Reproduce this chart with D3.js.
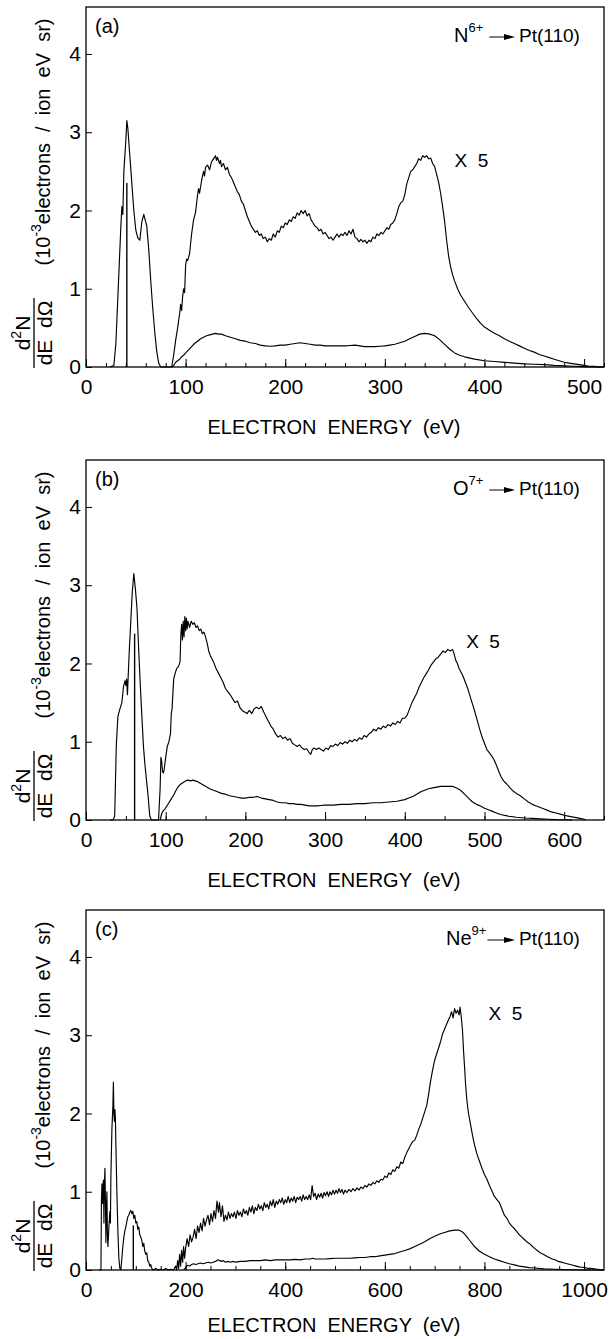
<!DOCTYPE html>
<html>
<head>
<meta charset="utf-8">
<script src="https://cdn.jsdelivr.net/npm/d3@7"></script>
<style>
  body { margin: 0; background: #fff; }
  text { white-space: pre; }
</style>
</head>
<body>
<div id="chart"></div>
<script>
// ---- data: [energy (eV), d2N/dE dOmega (1e-3 el / ion eV sr)] ----

// (a) N6+ -> Pt(110)
const peakA = [[24,0],[28,0.02],[30,0.3],[32,0.9],[34,1.5],[35,1.8],[36,2.05],[37,1.95],[38,2.5],[40,2.9],[41,3.15],[42,3.05],[44,2.7],[46,2.35],[48,2.0],[50,1.75],[52,1.65],[54,1.62],[56,1.85],[58,1.95],[59,1.9],[61,1.8],[63,1.5],[65,1.1],[67,0.75],[69,0.45],[71,0.2],[73,0.05],[75,0],[86,0]];
const x5A = [[86,0],[88,0.15],[90,0.34],[92,0.5],[94,0.68],[95,0.8],[96,0.72],[97,0.9],[98,1.0],[99,0.95],[100,1.3],[101,1.38],[102,1.36],[104,1.45],[106,1.7],[108,1.88],[110,1.98],[112,2.2],[113,2.28],[114,2.22],[116,2.38],[118,2.5],[119,2.44],[120,2.55],[122,2.58],[124,2.52],[126,2.62],[128,2.66],[130,2.7],[131,2.64],[132,2.68],[134,2.6],[135,2.64],[136,2.56],[138,2.6],[140,2.52],[142,2.55],[144,2.46],[146,2.42],[148,2.36],[150,2.3],[152,2.24],[154,2.2],[156,2.12],[158,2.08],[160,2.0],[162,1.92],[164,1.86],[166,1.8],[168,1.76],[170,1.72],[172,1.74],[174,1.68],[176,1.7],[178,1.64],[180,1.66],[182,1.6],[184,1.64],[186,1.62],[188,1.7],[190,1.66],[192,1.74],[194,1.72],[196,1.8],[198,1.78],[200,1.84],[202,1.82],[204,1.88],[206,1.86],[208,1.92],[210,1.9],[212,1.97],[214,1.94],[216,2.0],[218,1.96],[220,2.0],[222,1.93],[224,1.96],[226,1.88],[228,1.84],[230,1.8],[232,1.78],[234,1.74],[236,1.76],[238,1.7],[240,1.72],[242,1.68],[244,1.64],[246,1.66],[248,1.62],[250,1.66],[252,1.7],[254,1.66],[256,1.7],[258,1.68],[260,1.72],[262,1.68],[264,1.74],[266,1.7],[268,1.76],[270,1.66],[272,1.64],[274,1.6],[276,1.63],[278,1.6],[280,1.62],[282,1.58],[284,1.62],[286,1.6],[288,1.66],[290,1.64],[292,1.7],[294,1.68],[296,1.72],[298,1.7],[300,1.74],[302,1.78],[304,1.76],[306,1.82],[308,1.84],[310,1.88],[312,1.96],[314,2.05],[316,2.1],[318,2.12],[320,2.2],[322,2.34],[324,2.42],[326,2.5],[328,2.52],[330,2.56],[332,2.6],[334,2.66],[336,2.64],[338,2.7],[340,2.68],[342,2.7],[344,2.66],[346,2.67],[348,2.6],[350,2.56],[352,2.46],[354,2.36],[356,2.22],[358,2.05],[360,1.86],[362,1.62],[364,1.42],[366,1.28],[368,1.18],[370,1.1],[373,1.0],[376,0.92],[380,0.84],[384,0.76],[388,0.69],[392,0.62],[396,0.56],[400,0.51],[405,0.47],[410,0.43],[415,0.4],[420,0.36],[425,0.33],[430,0.3],[435,0.27],[440,0.24],[445,0.21],[450,0.19],[455,0.16],[460,0.14],[465,0.12],[470,0.1],[475,0.08],[480,0.06],[485,0.05],[490,0.04],[495,0.03],[500,0.02],[505,0.01],[510,0.01],[515,0],[520,0]];
const x1A = [[86,0],[88,0.02],[90,0.06],[92,0.08],[94,0.1],[96,0.13],[98,0.15],[100,0.18],[103,0.22],[106,0.26],[109,0.3],[112,0.33],[115,0.36],[118,0.38],[121,0.4],[124,0.41],[127,0.42],[130,0.43],[133,0.42],[136,0.42],[140,0.4],[145,0.38],[150,0.36],[155,0.34],[160,0.33],[165,0.31],[170,0.3],[175,0.28],[180,0.27],[185,0.265],[190,0.27],[195,0.28],[200,0.28],[205,0.29],[210,0.3],[215,0.31],[220,0.3],[225,0.29],[230,0.28],[235,0.28],[240,0.27],[245,0.27],[250,0.27],[255,0.27],[260,0.27],[265,0.275],[270,0.28],[275,0.27],[280,0.26],[285,0.26],[290,0.26],[295,0.265],[300,0.27],[305,0.28],[310,0.29],[315,0.31],[320,0.33],[325,0.36],[330,0.39],[335,0.42],[340,0.43],[345,0.42],[350,0.4],[355,0.35],[360,0.29],[365,0.23],[370,0.18],[375,0.15],[380,0.13],[390,0.1],[400,0.08],[410,0.07],[420,0.06],[430,0.05],[440,0.04],[450,0.035],[460,0.03],[470,0.02],[480,0.015],[490,0.01],[500,0.005],[510,0],[520,0]];
const markA = [41, 2.35];
const ticksA = [0, 100, 200, 300, 400, 500];

// (b) O7+ -> Pt(110)
const peakB = [[30,0],[34,0],[36,0.05],[38,0.95],[40,1.32],[42,1.4],[45,1.5],[47,1.7],[49,1.78],[50,1.72],[51,1.8],[52,1.6],[54,2.1],[56,2.5],[58,2.9],[60,3.15],[62,2.95],[64,2.7],[66,2.2],[68,1.75],[70,1.35],[72,0.95],[74,0.7],[76,0.5],[78,0.3],[80,0.05],[82,0],[91,0]];
const x5B = [[91,0],[93,0.4],[94,0.8],[95,0.75],[96,0.62],[97,0.6],[98,0.64],[100,0.8],[102,0.94],[104,1.0],[106,1.1],[107,1.36],[108,1.42],[110,1.8],[112,1.88],[114,1.94],[116,1.96],[118,2.02],[119,2.36],[120,2.5],[121,2.3],[122,2.54],[123,2.34],[124,2.6],[125,2.42],[126,2.58],[127,2.44],[128,2.54],[130,2.46],[132,2.54],[134,2.5],[136,2.52],[138,2.46],[140,2.48],[142,2.42],[144,2.44],[146,2.38],[148,2.4],[150,2.34],[152,2.26],[154,2.16],[156,2.1],[158,2.06],[160,2.02],[163,1.94],[166,1.88],[169,1.82],[172,1.76],[175,1.68],[178,1.64],[181,1.6],[184,1.55],[187,1.5],[190,1.52],[193,1.44],[196,1.4],[199,1.38],[202,1.36],[205,1.4],[208,1.36],[211,1.42],[214,1.44],[217,1.42],[220,1.45],[223,1.38],[226,1.32],[229,1.26],[232,1.2],[235,1.16],[238,1.1],[241,1.06],[244,1.08],[247,1.04],[250,1.06],[253,1.02],[256,1.04],[259,0.98],[262,0.96],[265,0.94],[268,0.96],[271,0.92],[274,0.9],[277,0.91],[280,0.86],[282,0.84],[284,0.9],[286,0.92],[289,0.9],[292,0.92],[295,0.9],[298,0.88],[301,0.92],[304,0.9],[307,0.95],[310,0.94],[313,0.97],[316,0.95],[319,0.99],[322,0.97],[325,1.0],[328,0.98],[331,1.02],[334,1.0],[337,1.03],[340,1.01],[343,1.05],[346,1.03],[349,1.08],[352,1.06],[355,1.1],[358,1.12],[361,1.16],[364,1.14],[367,1.18],[370,1.16],[373,1.2],[376,1.18],[379,1.22],[382,1.2],[385,1.24],[388,1.22],[391,1.26],[394,1.24],[397,1.3],[400,1.3],[403,1.34],[406,1.42],[409,1.5],[412,1.56],[415,1.62],[418,1.7],[421,1.76],[424,1.82],[427,1.87],[430,1.92],[433,1.98],[436,2.02],[439,2.06],[442,2.08],[445,2.12],[448,2.16],[451,2.14],[454,2.18],[457,2.16],[460,2.18],[462,2.12],[464,2.04],[466,2.0],[468,1.94],[470,1.9],[473,1.84],[476,1.76],[479,1.68],[482,1.58],[485,1.48],[488,1.38],[491,1.27],[494,1.16],[497,1.06],[500,0.98],[503,0.9],[506,0.86],[509,0.82],[512,0.77],[515,0.7],[518,0.62],[521,0.55],[524,0.5],[528,0.46],[532,0.41],[536,0.37],[540,0.34],[545,0.31],[550,0.27],[555,0.23],[560,0.2],[565,0.18],[570,0.16],[575,0.14],[580,0.12],[585,0.1],[590,0.09],[595,0.075],[600,0.06],[605,0.05],[610,0.04],[615,0.03],[620,0.02],[625,0.01],[627,0]];
const x1B = [[93,0],[95,0.08],[97,0.12],[99,0.14],[101,0.17],[104,0.22],[107,0.27],[110,0.32],[113,0.38],[116,0.43],[119,0.46],[122,0.48],[125,0.5],[128,0.51],[131,0.5],[134,0.51],[137,0.5],[140,0.49],[145,0.46],[150,0.43],[155,0.4],[160,0.38],[165,0.36],[170,0.34],[175,0.33],[180,0.31],[185,0.3],[190,0.29],[195,0.28],[200,0.28],[205,0.29],[210,0.29],[215,0.3],[220,0.28],[225,0.27],[230,0.26],[235,0.25],[240,0.23],[245,0.22],[250,0.22],[255,0.21],[260,0.21],[265,0.2],[270,0.2],[275,0.19],[280,0.18],[285,0.18],[290,0.18],[295,0.185],[300,0.19],[310,0.19],[320,0.2],[330,0.2],[340,0.21],[350,0.21],[360,0.22],[370,0.22],[380,0.23],[390,0.24],[400,0.26],[405,0.28],[410,0.3],[415,0.33],[420,0.36],[425,0.38],[430,0.4],[435,0.41],[440,0.42],[445,0.43],[450,0.43],[455,0.43],[460,0.43],[465,0.41],[470,0.38],[475,0.33],[480,0.28],[485,0.23],[490,0.2],[495,0.18],[500,0.15],[505,0.13],[510,0.11],[515,0.09],[520,0.07],[530,0.05],[540,0.035],[550,0.025],[560,0.02],[570,0.015],[580,0.01],[590,0.005],[600,0.003],[610,0]];
const markB = [61, 2.38];
const ticksB = [0, 100, 200, 300, 400, 500, 600];

// (c) Ne9+ -> Pt(110)
const peakC = [[26,0],[30,0],[31,0.9],[32,1.1],[33,0.85],[34,1.05],[35,1.15],[36,0.6],[37,1.1],[38,1.3],[39,0.9],[40,0.35],[41,0.8],[42,1.0],[43,0.45],[44,0.3],[46,0.55],[48,0.75],[49,0.6],[50,1.2],[52,1.8],[54,2.1],[55,2.4],[56,2.0],[57,1.9],[58,2.05],[59,1.95],[60,1.6],[62,1.0],[64,0.5],[66,0.15],[68,0.02],[70,0],[72,0.15],[74,0.3],[76,0.42],[78,0.5],[80,0.55],[82,0.62],[84,0.68],[86,0.7],[88,0.74],[90,0.76],[92,0.72],[94,0.75],[96,0.66],[98,0.7],[100,0.6],[102,0.62],[104,0.52],[106,0.55],[108,0.45],[110,0.42],[112,0.38],[114,0.3],[116,0.34],[118,0.24],[120,0.2],[122,0.22],[124,0.12],[126,0.1],[128,0.05],[130,0.07],[132,0.02],[135,0],[140,0.02],[145,0],[150,0.01],[155,0],[160,0.02],[165,0],[170,0.01],[176,0]];
const x5C = [[176,0],[180,0.05],[182,0],[184,0.12],[186,0.02],[188,0.2],[190,0.05],[192,0.25],[194,0.1],[196,0.3],[198,0.15],[200,0.28],[203,0.4],[206,0.3],[209,0.45],[212,0.36],[215,0.42],[218,0.52],[221,0.4],[224,0.56],[227,0.48],[230,0.6],[233,0.5],[236,0.66],[239,0.56],[242,0.64],[245,0.7],[248,0.58],[251,0.72],[254,0.62],[257,0.76],[260,0.66],[263,0.88],[266,0.74],[268,0.86],[271,0.68],[274,0.82],[277,0.62],[280,0.7],[283,0.64],[286,0.74],[289,0.66],[292,0.72],[295,0.68],[298,0.74],[301,0.66],[304,0.76],[307,0.7],[310,0.74],[313,0.68],[316,0.78],[319,0.72],[322,0.76],[325,0.7],[328,0.8],[331,0.74],[334,0.82],[337,0.72],[340,0.8],[343,0.76],[346,0.84],[349,0.78],[352,0.82],[355,0.76],[358,0.86],[361,0.8],[364,0.84],[367,0.78],[370,0.88],[373,0.82],[376,0.9],[379,0.8],[382,0.88],[385,0.84],[388,0.9],[391,0.86],[394,0.92],[397,0.84],[400,0.9],[403,0.86],[406,0.94],[409,0.86],[412,0.92],[415,0.88],[418,0.94],[421,0.86],[424,0.93],[427,0.9],[430,0.94],[433,0.88],[436,0.96],[439,0.9],[442,0.94],[445,0.9],[448,0.96],[451,0.9],[454,1.08],[457,0.94],[460,0.98],[463,0.9],[466,0.97],[469,0.93],[472,0.98],[475,0.92],[478,0.99],[481,0.95],[484,1.0],[487,0.94],[490,1.0],[493,0.96],[496,1.02],[499,0.97],[502,1.02],[505,0.98],[508,1.04],[511,0.99],[514,1.03],[517,0.97],[520,1.02],[524,0.99],[528,1.03],[532,1.0],[536,1.04],[540,1.01],[544,1.05],[548,1.02],[552,1.06],[556,1.04],[560,1.08],[564,1.06],[568,1.1],[572,1.08],[576,1.12],[580,1.1],[584,1.14],[588,1.12],[592,1.16],[596,1.15],[600,1.2],[604,1.18],[608,1.24],[612,1.22],[616,1.28],[620,1.26],[624,1.32],[628,1.3],[632,1.38],[636,1.36],[640,1.44],[644,1.5],[648,1.55],[652,1.6],[656,1.64],[660,1.66],[664,1.72],[668,1.8],[672,1.86],[676,1.94],[680,2.02],[684,2.1],[688,2.25],[692,2.42],[696,2.56],[700,2.68],[704,2.76],[708,2.84],[712,2.92],[716,3.02],[720,3.08],[724,3.14],[728,3.2],[731,3.24],[734,3.3],[737,3.22],[740,3.34],[743,3.28],[746,3.32],[749,3.26],[751,3.36],[754,3.2],[756,3.05],[758,2.8],[760,2.6],[762,2.38],[765,2.15],[768,2.0],[772,1.86],[776,1.72],[780,1.6],[785,1.48],[790,1.39],[795,1.3],[800,1.22],[805,1.16],[810,1.08],[815,1.01],[820,0.94],[825,0.9],[830,0.86],[835,0.78],[840,0.7],[845,0.66],[850,0.6],[855,0.56],[860,0.53],[865,0.49],[870,0.45],[875,0.42],[880,0.39],[885,0.36],[890,0.34],[895,0.31],[900,0.28],[906,0.25],[912,0.22],[918,0.2],[924,0.18],[930,0.16],[936,0.14],[942,0.13],[948,0.11],[954,0.1],[960,0.09],[966,0.08],[972,0.07],[978,0.06],[984,0.05],[990,0.04],[996,0.035],[1002,0.03],[1008,0.02],[1014,0.02],[1020,0.015],[1026,0.01],[1032,0.005],[1040,0]];
const x1C = [[196,0],[200,0.03],[204,0.06],[208,0.05],[212,0.07],[216,0.08],[220,0.07],[225,0.08],[230,0.09],[235,0.08],[240,0.09],[245,0.1],[250,0.09],[255,0.1],[260,0.11],[265,0.13],[268,0.12],[272,0.11],[276,0.12],[280,0.1],[285,0.11],[290,0.1],[295,0.11],[300,0.1],[310,0.11],[320,0.11],[330,0.12],[340,0.12],[350,0.12],[360,0.13],[370,0.12],[380,0.13],[390,0.13],[400,0.13],[410,0.13],[420,0.135],[430,0.13],[440,0.14],[450,0.14],[455,0.15],[460,0.14],[470,0.14],[480,0.14],[490,0.145],[500,0.15],[510,0.15],[520,0.15],[530,0.15],[540,0.155],[550,0.16],[560,0.16],[570,0.17],[580,0.17],[590,0.18],[600,0.19],[610,0.2],[620,0.21],[630,0.23],[640,0.25],[650,0.27],[660,0.3],[670,0.33],[680,0.36],[690,0.4],[700,0.43],[710,0.46],[720,0.48],[730,0.5],[740,0.51],[748,0.51],[755,0.49],[760,0.46],[765,0.42],[770,0.38],[775,0.34],[780,0.3],[790,0.24],[800,0.2],[810,0.17],[820,0.14],[830,0.12],[840,0.1],[850,0.08],[860,0.065],[870,0.05],[880,0.04],[890,0.03],[900,0.025],[920,0.015],[940,0.01],[960,0.005],[980,0.003],[1000,0],[1040,0]];
const markC = [95, 0.57];
const ticksC = [0, 200, 400, 600, 800, 1000];

const yTicks = [0, 1, 2, 3, 4];

// ---- layout ----
const FONT = "'Liberation Sans', Arial, Helvetica, sans-serif";
const pageW = 611, pageH = 1339;
const L = 86, W = 518, H = 360, Y_MAX = 4.6;

const svg = d3.select("#chart")
  .append("svg")
  .attr("width", pageW)
  .attr("height", pageH)
  .style("font-family", FONT);

const panels = [
  { top: 7,   xMax: 520,  minor: 20, ticks: ticksA, peak: peakA, x5: x5A, x1: x1A, mark: markA,
    tag: "(a)", ion: "N", charge: "6+", ionX: 454, gap: 6, x5At: [370, 2.55] },
  { top: 460, xMax: 650,  minor: 50, ticks: ticksB, peak: peakB, x5: x5B, x1: x1B, mark: markB,
    tag: "(b)", ion: "O", charge: "7+", ionX: 453, gap: 6, x5At: [477, 2.2] },
  { top: 910, xMax: 1040, minor: 50, ticks: ticksC, peak: peakC, x5: x5C, x1: x1C, mark: markC,
    tag: "(c)", ion: "Ne", charge: "9+", ionX: 446, gap: 1, x5At: [808, 3.19] }
];

panels.forEach(p => drawPanel(p));

function drawPanel(p) {
  const g = svg.append("g").attr("transform", `translate(${L},${p.top})`);

  const x = d3.scaleLinear().domain([0, p.xMax]).range([0, W]);
  const y = d3.scaleLinear().domain([0, Y_MAX]).range([H, 0]);

  // minor x ticks (inward)
  g.append("g")
    .attr("transform", `translate(0,${H})`)
    .call(d3.axisBottom(x).tickValues(d3.range(0, p.xMax + 1, p.minor)).tickSize(-4).tickFormat(""))
    .call(a => a.select(".domain").remove());

  // major x ticks + labels
  g.append("g")
    .attr("transform", `translate(0,${H})`)
    .call(d3.axisBottom(x).tickValues(p.ticks).tickSize(-8).tickPadding(12).tickFormat(d3.format("d")))
    .call(a => a.select(".domain").remove())
    .call(a => a.selectAll("text").attr("font-size", 21).attr("font-family", FONT).attr("fill", "#000"));

  // y ticks + labels
  g.append("g")
    .call(d3.axisLeft(y).tickValues(yTicks).tickSize(-6).tickPadding(5).tickFormat(d3.format("d")))
    .call(a => a.select(".domain").remove())
    .call(a => a.selectAll("text").attr("font-size", 21).attr("font-family", FONT).attr("fill", "#000"));

  g.selectAll(".tick line").attr("stroke", "#000").attr("stroke-width", 1);

  // curves
  const line = d3.line().x(d => x(d[0])).y(d => y(d[1]));
  [p.peak, p.x5, p.x1].forEach(series => {
    g.append("path")
      .datum(series)
      .attr("d", line)
      .attr("fill", "none")
      .attr("stroke", "#000")
      .attr("stroke-width", 1.15)
      .attr("stroke-linejoin", "round");
  });

  // vertical marker line
  g.append("line")
    .attr("x1", x(p.mark[0])).attr("x2", x(p.mark[0]))
    .attr("y1", y(0)).attr("y2", y(p.mark[1]))
    .attr("stroke", "#000")
    .attr("stroke-width", 1.4);

  // frame
  g.append("rect")
    .attr("width", W)
    .attr("height", H)
    .attr("fill", "none")
    .attr("stroke", "#000")
    .attr("stroke-width", 1.3);

  // panel tag
  g.append("text")
    .attr("x", 9)
    .attr("y", 26)
    .attr("font-size", 20)
    .text(p.tag);

  // X 5 label
  g.append("text")
    .attr("x", x(p.x5At[0]))
    .attr("y", y(p.x5At[1]))
    .attr("font-size", 19)
    .text("X  5");

  // reaction label
  const lx = p.ionX - L;
  const ly = 35;
  const ion = g.append("text")
    .attr("x", lx)
    .attr("y", ly)
    .attr("font-size", 20);
  ion.append("tspan").text(p.ion);
  ion.append("tspan").attr("font-size", 13).attr("dy", -10).text(p.charge);

  const a0 = lx + ion.node().getComputedTextLength() + p.gap;
  const a1 = 515 - L;
  const ay = ly - 5;
  g.append("line")
    .attr("x1", a0).attr("x2", a1 - 8)
    .attr("y1", ay).attr("y2", ay)
    .attr("stroke", "#000")
    .attr("stroke-width", 1);
  g.append("path")
    .attr("d", `M${a1 - 11},${ay - 3}L${a1},${ay}L${a1 - 11},${ay + 3}Z`)
    .attr("fill", "#000");

  g.append("text")
    .attr("x", 519 - L)
    .attr("y", ly)
    .attr("font-size", 19)
    .text("Pt(110)");

  // x-axis title (kept inside the page at the bottom)
  svg.append("text")
    .attr("x", 334)
    .attr("y", Math.min(p.top + H + 67, pageH - 7))
    .attr("text-anchor", "middle")
    .attr("font-size", 20)
    .text("ELECTRON  ENERGY  (eV)");

  // y-axis title
  const yt = svg.append("text")
    .attr("transform", `translate(50,${p.top + 135}) rotate(-90)`)
    .attr("text-anchor", "middle")
    .attr("font-size", 20);
  yt.append("tspan").text("(10");
  yt.append("tspan").attr("font-size", 14).attr("dy", -9).text("-3");
  yt.append("tspan").attr("dy", 9).text("electrons  /  ion  eV  sr)");

  // d2N / dE dOmega fraction
  const fr = svg.append("g")
    .attr("transform", `translate(34,${p.top + 326}) rotate(-90)`)
    .attr("font-size", 21);
  const num = fr.append("text")
    .attr("x", 0)
    .attr("y", -4)
    .attr("text-anchor", "middle");
  num.append("tspan").text("d");
  num.append("tspan").attr("font-size", 14).attr("dy", -9).text("2");
  num.append("tspan").attr("dy", 9).text("N");
  fr.append("text")
    .attr("x", 0)
    .attr("y", 18)
    .attr("text-anchor", "middle")
    .text("dE  dΩ");
  fr.append("line")
    .attr("x1", -35).attr("x2", 35)
    .attr("y1", 0).attr("y2", 0)
    .attr("stroke", "#000")
    .attr("stroke-width", 1.3);
}
</script>
</body>
</html>
